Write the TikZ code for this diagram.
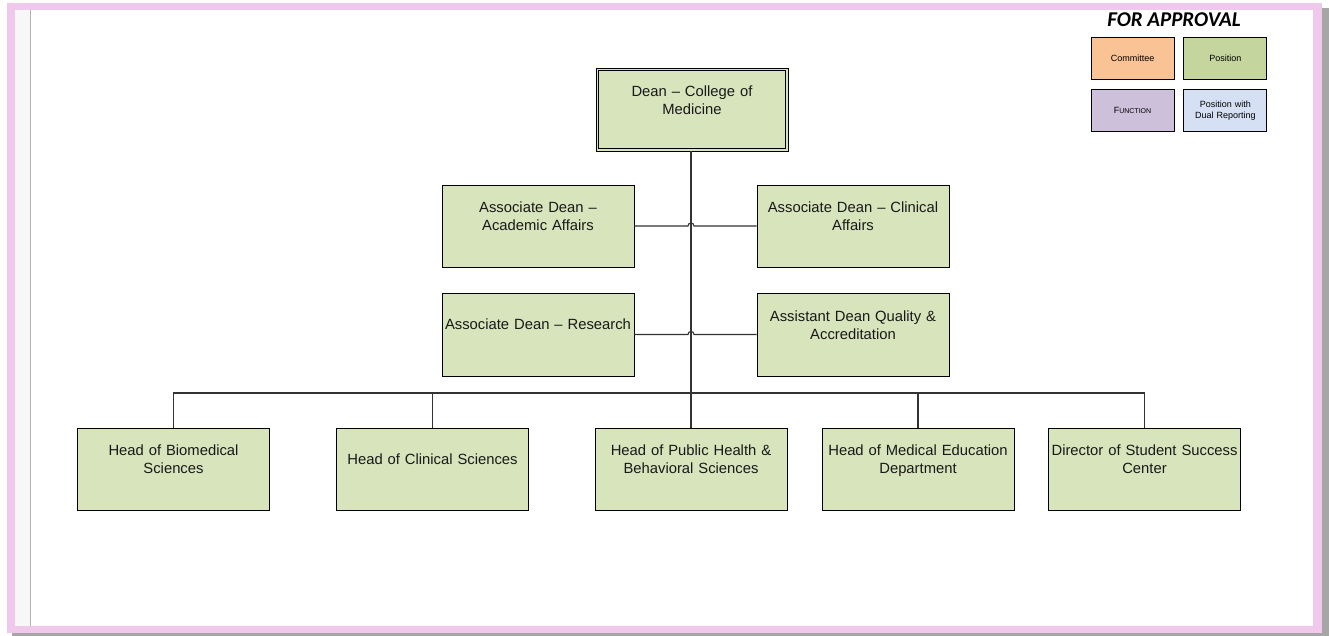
\documentclass[tikz,border=0pt]{standalone}
\usepackage{fontspec}
\setmainfont{Liberation Sans}
\newfontfamily\calibri{Carlito}
\usetikzlibrary{positioning}
\definecolor{posgreen}{RGB}{216,228,188}
\definecolor{legcomm}{RGB}{250,195,150}
\definecolor{legpos}{RGB}{196,214,158}
\definecolor{legfunc}{RGB}{204,192,218}
\definecolor{legdual}{RGB}{214,224,245}
\definecolor{framepink}{RGB}{240,200,236}
\tikzset{%
   posbox/.style={draw=black, line width=0.9pt, fill=posgreen, minimum width=192pt, minimum height=82pt,
     text width=186pt, align=center, inner sep=0pt, text depth=37.5pt, text=black!90,
     font=\fontsize{14.8}{18}\selectfont},
   oneline/.style={text depth=20pt},
   legbox/.style={draw=black, line width=0.9pt, minimum width=83pt, minimum height=42pt,
     text width=80pt, align=center, inner sep=0pt, font=\fontsize{9}{11}\selectfont},
   link/.style={draw=black!80, line width=1.1pt},
}

\begin{document}
\begin{tikzpicture}[x=1pt, y=-1pt]
      \useasboundingbox (0,0) rectangle (1329,636);
      % page frame
      \fill[black!35] (12,8) rectangle (1329,636);
      \fill[framepink] (7,3) rectangle (1322,633);
      \fill[white] (15,10) rectangle (1313,626);
      \fill[black!3] (15,10) rectangle (30,626);
      \draw[black!30, line width=0.8pt] (30,10) -- (30,626);
      % legend
      \node[font=\calibri\bfseries\itshape\fontsize{21}{24}\selectfont] (title) at (1174,20) {FOR APPROVAL};
      \node[legbox, fill=legcomm] (comm) at (1132.5,58) {Committee};
      \node[legbox, fill=legpos, right=9pt of comm] (lpos) {Position};
      \node[legbox, fill=legfunc, below=10pt of comm] (func) {F{\fontsize{7}{9}\selectfont UNCTION}};
      \node[legbox, fill=legdual, right=9pt of func] (dual) {Position with\\Dual Reporting};
      % boxes
      \node[posbox, minimum height=83pt] (dean) at (692,109.5) {Dean -- College of\\Medicine};
      \draw[black, line width=0.8pt] ([xshift=3pt,yshift=-3pt]dean.north west) rectangle ([xshift=-3pt,yshift=3pt]dean.south east);
      \node[posbox] (adA) at (538,226) {Associate Dean --\\Academic Affairs};
      \node[posbox] (adC) at (853,226) {Associate Dean -- Clinical\\Affairs};
      \node[posbox, oneline, minimum height=83pt] (adR) at (538,334.5) {Associate Dean -- Research};
      \node[posbox, minimum height=83pt] (adQ) at (853,334.5) {Assistant Dean Quality \&\\Accreditation};
      \node[posbox] (hBio) at (173.5,469) {Head of Biomedical\\Sciences};
      \node[posbox, oneline] (hClin) at (432.5,469) {Head of Clinical Sciences};
      \node[posbox] (hPH) at (691,469) {Head of Public Health \&\\Behavioral Sciences};
      \node[posbox] (hMed) at (918,469) {Head of Medical Education\\Department};
      \node[posbox] (hDir) at (1144.5,469) {Director of Student Success\\Center};
      % lines
      \coordinate (bus) at (691,393);
      \coordinate (jA) at (hPH.north |- adA.east);
      \coordinate (jR) at (hPH.north |- adR.east);
      \draw[link] (dean.south -| hPH.north) -- (hPH.north);
      \draw[link] (hBio.north) |- (bus) -| (hDir.north);
      \draw[link] (hClin.north) -- (hClin.north |- bus);
      \draw[link] (hMed.north) -- (hMed.north |- bus);
      \draw[link] (adA.east) -- ([xshift=-3pt]jA) .. controls +(0,-4) and +(0,-4) .. ([xshift=3pt]jA) -- (adC.west);
      \draw[link] (adR.east) -- ([xshift=-3pt]jR) .. controls +(0,-4) and +(0,-4) .. ([xshift=3pt]jR) -- (adQ.west);
   \end{tikzpicture}
\end{document}
